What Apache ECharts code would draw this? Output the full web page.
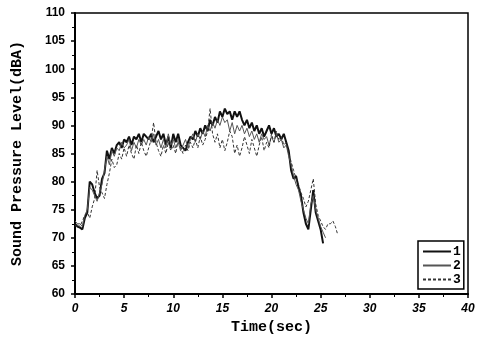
<!DOCTYPE html>
<html>
<head>
<meta charset="utf-8">
<script src="https://cdn.jsdelivr.net/npm/echarts@6/dist/echarts.min.js"></script>
<style>
  html, body { margin: 0; padding: 0; background: #fff; }
  #chart { width: 479px; height: 341px; }
</style>
</head>
<body>
<div id="chart"></div>
<script>
// sample times (sec), shared by the three runs
const sampleTimes = [
  0, 0.25, 0.5, 0.75, 1, 1.25, 1.5, 1.75, 2, 2.25, 2.5, 2.75,
  3, 3.25, 3.5, 3.75, 4, 4.25, 4.5, 4.75, 5, 5.25, 5.5, 5.75,
  6, 6.25, 6.5, 6.75, 7, 7.25, 7.5, 7.75, 8, 8.25, 8.5, 8.75,
  9, 9.25, 9.5, 9.75, 10, 10.25, 10.5, 10.75, 11, 11.25, 11.5, 11.75,
  12, 12.25, 12.5, 12.75, 13, 13.25, 13.5, 13.75, 14, 14.25, 14.5, 14.75,
  15, 15.25, 15.5, 15.75, 16, 16.25, 16.5, 16.75, 17, 17.25, 17.5, 17.75,
  18, 18.25, 18.5, 18.75, 19, 19.25, 19.5, 19.75, 20, 20.25, 20.5, 20.75,
  21, 21.25, 21.5, 21.75, 22, 22.25, 22.5, 22.75, 23, 23.25, 23.5, 23.75,
  24, 24.25, 24.5, 24.75, 25, 25.25, 25.5, 25.75, 26, 26.25, 26.5, 26.75
];

// sound pressure level (dBA) per run
const run1 = [
  72.5, 72.0, 71.8, 71.5, 73.5, 74.5, 80.0, 79.5, 78.0, 77.0, 77.5, 80.5,
  81.5, 85.5, 84.0, 86.0, 85.0, 86.5, 87.0, 86.0, 87.5, 87.0, 88.0, 86.5,
  88.0, 87.5, 88.5, 87.0, 88.5, 88.0, 87.5, 88.5, 87.0, 88.0, 89.0, 87.5,
  88.5, 86.5, 88.0, 86.0, 88.5, 87.0, 88.5, 86.5, 86.0, 85.5, 87.0, 88.0,
  87.5, 89.0, 88.0, 89.5, 88.5, 90.0, 89.0, 91.0, 90.0, 91.5, 90.5, 92.5,
  91.5, 93.0, 92.0, 92.5, 91.0, 92.5, 91.5, 92.5, 91.0, 90.0, 91.0, 89.5,
  90.5, 89.0, 90.0, 88.5, 89.5, 88.0, 89.0, 90.0, 88.5, 89.5, 88.0, 88.5,
  87.5, 88.5, 87.0, 85.5, 82.0, 80.5, 81.0, 79.0, 77.5, 74.5, 72.5, 71.5,
  75.0, 78.5, 74.5, 73.0, 71.5, 69.0
];
const run2 = [
  73.0, 72.5, 72.5, 72.0, 74.0, 75.0, 79.0, 78.5, 77.5, 76.5, 78.0, 79.5,
  82.0, 84.5, 83.0, 85.5, 84.5, 86.0, 85.5, 87.0, 86.0, 86.5, 87.5, 85.5,
  87.0, 86.0, 87.5, 86.5, 87.5, 86.5, 88.0, 87.0, 88.5, 86.5, 87.5, 86.0,
  87.5, 86.0, 88.5, 86.5, 87.5, 86.0, 87.0, 85.5, 86.5, 87.5, 86.0, 87.5,
  88.5, 87.0, 88.5, 87.5, 89.0, 88.0, 90.0, 89.0, 90.5, 89.5, 91.0, 90.0,
  91.5, 90.5, 91.0, 89.0, 90.5, 88.5, 90.0, 89.0, 90.0, 88.5, 89.5, 88.0,
  89.0, 87.5, 88.5, 87.0, 88.5, 87.5, 88.0, 86.5, 88.0, 87.0, 88.5, 87.0,
  87.5, 86.0, 86.5, 84.5, 83.0, 81.0, 79.5, 78.5, 76.5, 75.0, 73.5, 72.5,
  76.0, 77.5, 75.0, 73.5, 72.0, 71.0, 70.0
];
const run3 = [
  72.0, 72.5, 72.0, 73.0, 74.0, 74.5, 73.5, 75.5, 77.0, 82.0, 79.0, 78.0,
  77.0, 79.5, 81.5, 84.0, 82.5, 83.0, 85.0, 84.0, 86.0, 84.5, 86.5, 85.0,
  84.0, 86.5, 85.0, 87.0, 85.5, 84.5, 86.0, 87.5, 90.5, 87.0, 85.5, 84.5,
  86.5, 85.0, 87.0, 85.5, 86.5, 85.0, 87.5, 86.0, 85.0, 86.5, 85.5, 87.0,
  86.0, 87.5, 86.0, 88.0, 86.5, 87.5, 89.0, 93.0, 88.5, 87.0, 88.5, 86.0,
  87.5, 85.5, 87.0, 89.0, 88.0, 85.0, 86.5, 84.5, 86.0, 88.0, 86.5, 85.0,
  87.5, 86.0, 84.5, 86.5, 88.0, 85.5, 87.0, 86.0, 88.5, 87.0, 89.0, 87.5,
  88.0, 86.5, 87.0, 85.0, 83.5, 82.0, 80.5, 79.5, 78.0, 77.0, 75.5, 76.5,
  78.5, 80.5, 76.0, 74.0, 73.0, 72.0, 71.5, 72.5, 72.5, 73.0, 72.0, 70.5
];

const runNames = ["1", "2", "3"];
const xTicks = { min: 0, max: 40, step: 5 };
const yTicks = { min: 60, max: 110, step: 5 };

const pair = (vals) => vals.map((v, i) => [sampleTimes[i], v]);

const chart = echarts.init(document.getElementById("chart"));

const axisCommon = {
  type: "value",
  axisLine: { show: true, lineStyle: { color: "#000", width: 2 } },
  axisTick: { show: true, length: 4, lineStyle: { color: "#000", width: 1.5 } },
  minorTick: { show: true, splitNumber: 2, length: 3, lineStyle: { color: "#000", width: 1 } },
  splitLine: { show: false },
  nameLocation: "middle",
  nameTextStyle: {
    fontFamily: "Liberation Mono",
    fontWeight: "bold",
    fontSize: 15,
    color: "#000",
  },
};

chart.setOption({
  animation: false,
  backgroundColor: "#fff",
  grid: {
    left: 75,
    right: 11,
    top: 13,
    bottom: 47,
    show: true,
    borderColor: "#000",
    borderWidth: 1.5,
  },
  legend: {
    data: runNames,
    orient: "vertical",
    left: 418,
    top: 241,
    padding: [4, 3, 3, 4],
    itemGap: 1,
    itemWidth: 28,
    itemHeight: 12,
    borderColor: "#000",
    borderWidth: 1.5,
    itemStyle: { opacity: 0 },
    textStyle: {
      fontFamily: "Liberation Mono",
      fontWeight: "bold",
      fontSize: 13,
      color: "#000",
      padding: [0, 0, 0, -3],
    },
  },
  xAxis: {
    ...axisCommon,
    min: xTicks.min,
    max: xTicks.max,
    interval: xTicks.step,
    name: "Time(sec)",
    nameGap: 24,
    axisLabel: {
      margin: 9,
      color: "#000",
      fontFamily: "Liberation Sans",
      fontWeight: "bold",
      fontStyle: "italic",
      fontSize: 12,
    },
  },
  yAxis: {
    ...axisCommon,
    min: yTicks.min,
    max: yTicks.max,
    interval: yTicks.step,
    name: "Sound Pressure Level(dBA)",
    nameGap: 50,
    axisLabel: {
      margin: 10,
      color: "#000",
      fontFamily: "Liberation Sans",
      fontWeight: "bold",
      fontSize: 12,
    },
  },
  series: [
    {
      name: runNames[0],
      type: "line",
      data: pair(run1),
      symbol: "none",
      lineStyle: { color: "#111", width: 2 },
      itemStyle: { color: "#111" },
    },
    {
      name: runNames[1],
      type: "line",
      data: pair(run2),
      symbol: "none",
      lineStyle: { color: "#555", width: 1 },
      itemStyle: { color: "#555" },
    },
    {
      name: runNames[2],
      type: "line",
      data: pair(run3),
      symbol: "none",
      lineStyle: { color: "#333", width: 1, type: [3, 2] },
      itemStyle: { color: "#333" },
    },
  ],
});
</script>
</body>
</html>
